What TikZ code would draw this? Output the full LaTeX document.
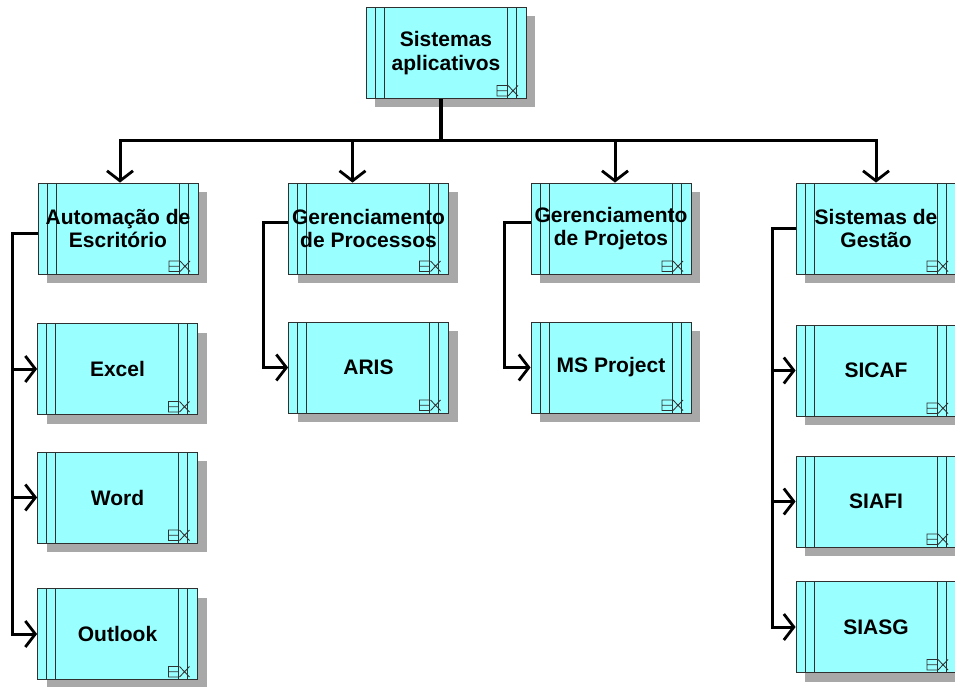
\documentclass[tikz,border=0pt]{standalone}
\usepackage{fontspec}
\setmainfont{Liberation Sans}
\usepackage{tikz}
\usetikzlibrary{arrows.meta,positioning,calc,shadows}
\definecolor{appcyan}{HTML}{99FFFF}
\definecolor{shadowgray}{HTML}{A8A8A8}
\definecolor{edgegray}{HTML}{303030}
\newcommand{\ppb}{path picture bounding box}
\tikzset{
  appsys/.style={draw=edgegray, line width=0.8pt, fill=appcyan, minimum width=160pt, minimum height=91pt,
    inner sep=1pt, align=center, font=\fontsize{21}{23.5}\selectfont\bfseries,
    drop shadow={shadow xshift=9pt, shadow yshift=-9pt, fill=shadowgray, opacity=1},
    path picture={
      \draw[edgegray, line width=0.6pt]
        ([xshift=9pt]\ppb.north west) -- ([xshift=9pt]\ppb.south west)
        ([xshift=18pt]\ppb.north west) -- ([xshift=18pt]\ppb.south west)
        ([xshift=-10pt]\ppb.north east) -- ([xshift=-10pt]\ppb.south east)
        ([xshift=-19pt]\ppb.north east) -- ([xshift=-19pt]\ppb.south east);
      % small Ex mark
      \draw[edgegray, line width=0.85pt]
        ([xshift=-19pt,yshift=2.5pt]\ppb.south east) -- ([xshift=-29pt,yshift=2.5pt]\ppb.south east)
          -- ([xshift=-29pt,yshift=13pt]\ppb.south east) -- ([xshift=-19pt,yshift=13pt]\ppb.south east)
        ([xshift=-29pt,yshift=7.75pt]\ppb.south east) -- ([xshift=-19pt,yshift=7.75pt]\ppb.south east)
        ([xshift=-18pt,yshift=2.5pt]\ppb.south east) -- ([xshift=-8pt,yshift=13pt]\ppb.south east)
        ([xshift=-18pt,yshift=13pt]\ppb.south east) -- ([xshift=-8pt,yshift=2.5pt]\ppb.south east);
    }},
  trunk/.style={line width=3pt},
  link/.style={line width=3pt, -{Straight Barb[length=10pt,width=26pt,line width=2.8pt]}}
}

\begin{document}
\begin{tikzpicture}[x=1pt,y=-1pt]
  \useasboundingbox (0,0) rectangle (955,687);

  \node[appsys] (sys) at (446,53) {Sistemas\\aplicativos};

  \node[appsys] (auto) at (118,228.5) {Automação de\\Escritório};
  \node[appsys] (proc) at (368.5,228.5) {Gerenciamento\\de Processos};
  \node[appsys] (proj) at (611,228.5) {Gerenciamento\\de Projetos};
  \node[appsys] (gest) at (876,228.5) {Sistemas de\\Gestão};

  \node[appsys] (excel) at (117.5,369) {Excel};
  \node[appsys] (word) at (117.5,497.5) {Word};
  \node[appsys] (outlook) at (117.5,634) {Outlook};
  \node[appsys] (aris) at (368.5,367.5) {ARIS};
  \node[appsys] (msproj) at (611,367.5) {MS Project};
  \node[appsys] (sicaf) at (876,370.5) {SICAF};
  \node[appsys] (siafi) at (876,501.5) {SIAFI};
  \node[appsys] (siasg) at (876,627) {SIASG};

  % top level
  \coordinate (bus) at (441,141);
  \draw[trunk, line width=3.6pt] ([xshift=-5pt]sys.south) -- (bus);
  \draw[link] (bus) -| ([xshift=2pt]auto.north);
  \draw[link] (bus) -| ([xshift=-16pt]proc.north);
  \draw[link] (bus) -| ([xshift=4pt]proj.north);
  \draw[link] (bus) -| (gest.north);

  % Automação de Escritório
  \coordinate (autotrunk) at (12,233);
  \draw[link] ([yshift=-4.5pt]auto.west) -- (autotrunk) |- (outlook.west);
  \draw[link] (autotrunk |- excel.west) -- (excel.west);
  \draw[link] (autotrunk |- word.west) -- (word.west);

  % Gerenciamento
  \coordinate (proctrunk) at (263,222);
  \draw[link] ([yshift=6.5pt]proc.west) -- (proctrunk) |- (aris.west);
  \coordinate (projtrunk) at (504,222);
  \draw[link] ([yshift=6.5pt]proj.west) -- (projtrunk) |- (msproj.west);

  % Sistemas de Gestão
  \coordinate (gesttrunk) at (772,228.5);
  \draw[link] (gest.west) -- (gesttrunk) |- (siasg.west);
  \draw[link] (gesttrunk |- sicaf.west) -- (sicaf.west);
  \draw[link] (gesttrunk |- siafi.west) -- (siafi.west);
\end{tikzpicture}
\end{document}
